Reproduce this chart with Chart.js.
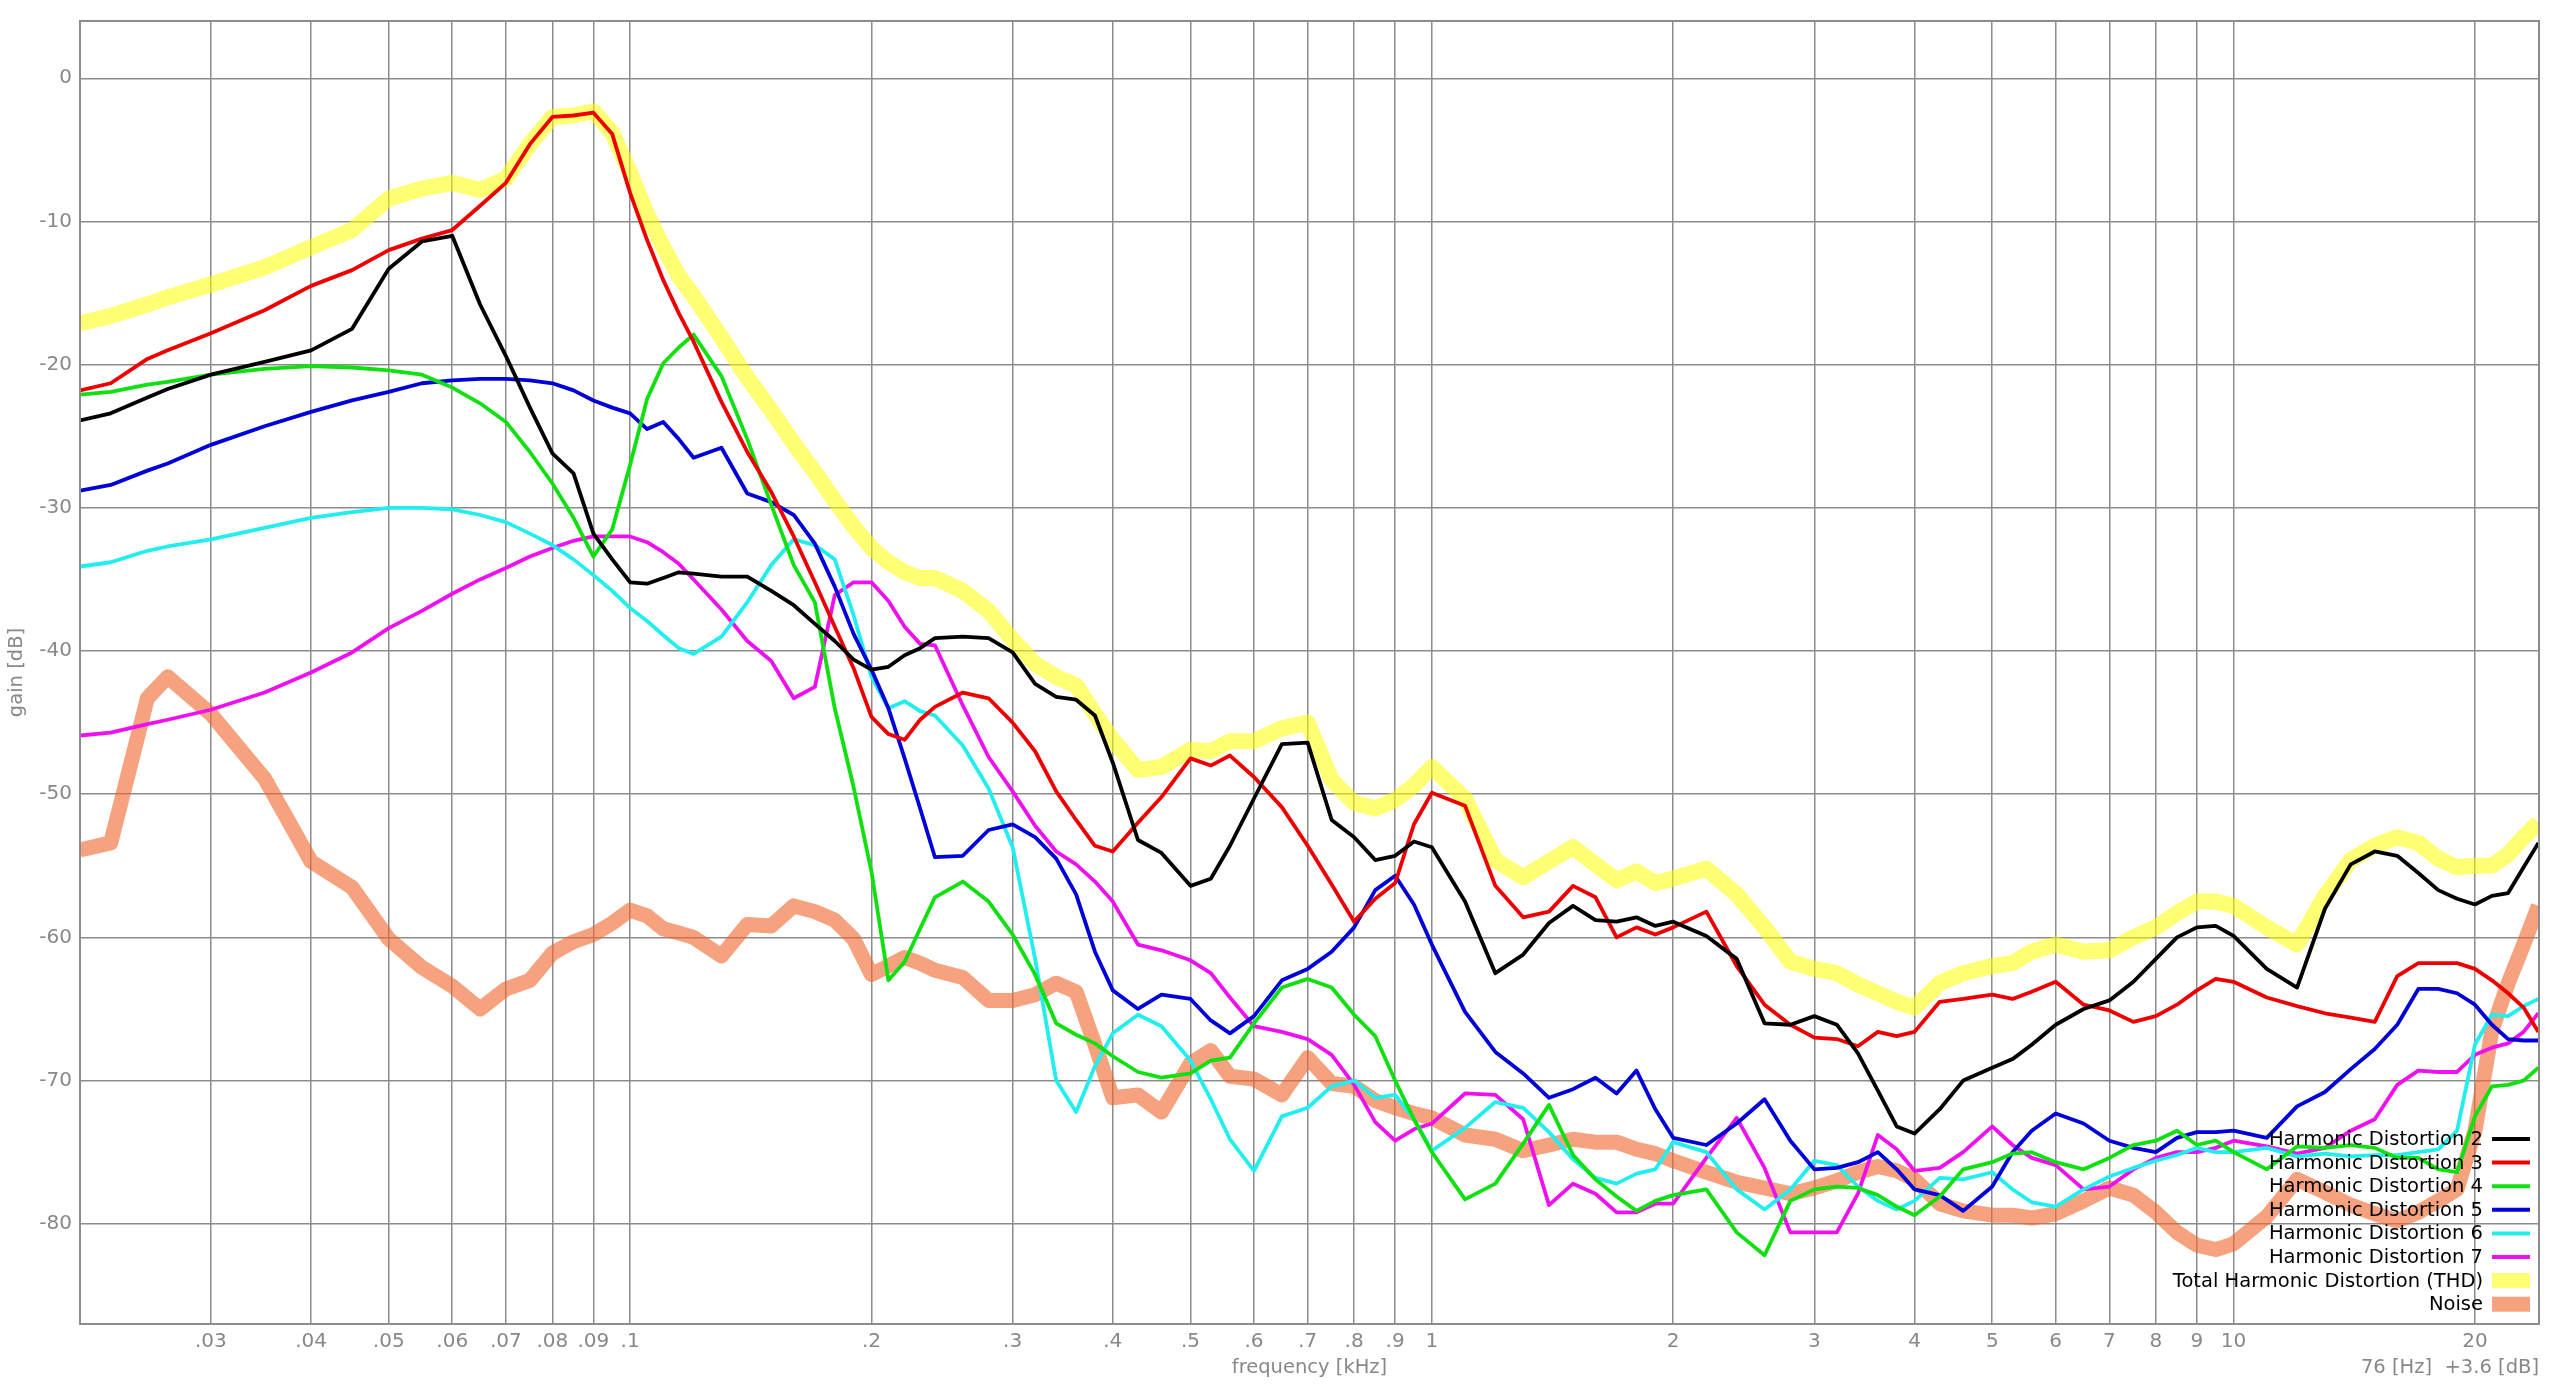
<!DOCTYPE html>
<html><head><meta charset="utf-8">
<script src="https://cdn.jsdelivr.net/npm/chart.js@4.4.1/dist/chart.umd.min.js"></script>
<style>html,body{margin:0;padding:0;background:#fff;}#wrap{width:2560px;height:1385px;position:relative;}</style>
</head><body><div id="wrap"><canvas id="c"></canvas></div>
<script>
// frequency points in kHz
const freq = [
 0.0206,0.0225,0.025,0.0265,0.03,0.035,0.04,0.045,0.05,0.055,
 0.06,0.065,0.07,0.075,0.08,0.085,0.09,0.095,0.1,0.105,
 0.11,0.115,0.12,0.13,0.14,0.15,0.16,0.17,0.18,0.19,
 0.2,0.21,0.22,0.23,0.24,0.26,0.28,0.3,0.32,0.34,
 0.36,0.38,0.4,0.43,0.46,0.5,0.53,0.56,0.6,0.65,
 0.7,0.75,0.8,0.85,0.9,0.95,1,1.1,1.2,1.3,
 1.4,1.5,1.6,1.7,1.8,1.9,2,2.2,2.4,2.6,
 2.8,3,3.2,3.4,3.6,3.8,4,4.3,4.6,5,
 5.3,5.6,6,6.5,7,7.5,8,8.5,9,9.5,
 10,11,12,13,14,15,16,17,18,19,
 20,21,22,23,24];

const hd2 = [
 -23.9,-23.4,-22.3,-21.7,-20.7,-19.8,-19.0,-17.5,-13.3,-11.4,
 -11.0,-15.8,-19.4,-23.0,-26.2,-27.6,-31.8,-33.6,-35.2,-35.3,
 -34.9,-34.5,-34.6,-34.8,-34.8,-35.8,-36.8,-38.1,-39.3,-40.6,
 -41.3,-41.1,-40.3,-39.8,-39.1,-39.0,-39.1,-40.1,-42.3,-43.2,
 -43.4,-44.5,-47.8,-53.2,-54.1,-56.4,-55.9,-53.6,-50.3,-46.5,
 -46.4,-51.8,-53.0,-54.6,-54.3,-53.3,-53.7,-57.5,-62.5,-61.2,
 -59.0,-57.8,-58.8,-58.9,-58.6,-59.2,-58.9,-59.9,-61.5,-66.0,
 -66.1,-65.5,-66.1,-68.1,-70.7,-73.2,-73.7,-72.0,-70.0,-69.1,
 -68.5,-67.5,-66.1,-65.0,-64.4,-63.1,-61.5,-60.0,-59.3,-59.2,
 -59.9,-62.2,-63.5,-58.0,-54.9,-54.0,-54.3,-55.5,-56.7,-57.3,
 -57.7,-57.1,-56.9,-55.1,-53.4];

const hd3 = [
 -21.8,-21.3,-19.6,-19.0,-17.8,-16.2,-14.5,-13.4,-12.0,-11.2,
 -10.6,-8.9,-7.3,-4.6,-2.7,-2.6,-2.4,-3.9,-8.0,-11.3,
 -14.1,-16.4,-18.4,-22.6,-26.1,-28.9,-32.0,-35.2,-38.3,-41.2,
 -44.6,-45.8,-46.2,-44.8,-43.9,-42.9,-43.3,-45.0,-47.0,-49.8,
 -51.8,-53.6,-54.0,-52.0,-50.2,-47.5,-48.0,-47.3,-48.8,-50.9,
 -53.6,-56.3,-58.9,-57.3,-56.2,-52.1,-49.9,-50.8,-56.4,-58.6,
 -58.2,-56.4,-57.2,-60.0,-59.3,-59.8,-59.3,-58.2,-62.0,-64.7,
 -66.1,-67.0,-67.1,-67.6,-66.6,-66.9,-66.6,-64.5,-64.3,-64.0,
 -64.3,-63.8,-63.1,-64.7,-65.1,-65.9,-65.5,-64.7,-63.7,-62.9,
 -63.1,-64.2,-64.8,-65.3,-65.6,-65.9,-62.7,-61.8,-61.8,-61.8,
 -62.2,-63.0,-63.9,-64.9,-66.6];

const hd4 = [
 -22.1,-21.9,-21.4,-21.2,-20.7,-20.3,-20.1,-20.2,-20.4,-20.7,
 -21.6,-22.7,-24.0,-26.1,-28.3,-30.7,-33.4,-31.5,-27.0,-22.4,
 -19.9,-18.8,-17.9,-20.8,-25.2,-29.8,-34.0,-36.6,-44.0,-49.5,
 -55.4,-63.0,-61.7,-59.4,-57.2,-56.1,-57.5,-59.8,-62.6,-66.0,
 -66.8,-67.4,-68.3,-69.4,-69.8,-69.5,-68.6,-68.4,-66.0,-63.5,
 -62.9,-63.5,-65.4,-66.9,-70.0,-72.7,-75.0,-78.3,-77.2,-74.4,
 -71.7,-75.2,-76.9,-78.1,-79.1,-78.4,-78.0,-77.6,-80.6,-82.2,
 -78.4,-77.6,-77.4,-77.5,-78.0,-78.8,-79.4,-78.1,-76.2,-75.7,
 -75.1,-75.0,-75.7,-76.2,-75.4,-74.5,-74.2,-73.5,-74.5,-74.2,
 -75.0,-76.2,-74.6,-74.7,-74.5,-74.7,-75.4,-75.4,-76.2,-76.4,
 -72.5,-70.4,-70.3,-70.0,-69.1];

const hd5 = [
 -28.8,-28.4,-27.4,-26.9,-25.6,-24.3,-23.3,-22.5,-21.9,-21.3,
 -21.1,-21.0,-21.0,-21.1,-21.3,-21.8,-22.5,-23.0,-23.4,-24.5,
 -24.0,-25.2,-26.5,-25.8,-29.0,-29.6,-30.5,-32.5,-35.5,-38.8,
 -41.3,-44.0,-47.5,-51.0,-54.4,-54.3,-52.5,-52.1,-53.0,-54.5,
 -57.0,-61.0,-63.7,-65.0,-64.0,-64.3,-65.8,-66.7,-65.5,-63.0,
 -62.2,-61.0,-59.3,-56.7,-55.7,-57.7,-60.5,-65.2,-68.0,-69.5,
 -71.2,-70.6,-69.8,-70.9,-69.3,-72.0,-74.0,-74.5,-73.0,-71.3,
 -74.2,-76.2,-76.1,-75.7,-75.0,-76.2,-77.6,-78.0,-79.1,-77.4,
 -75.0,-73.5,-72.3,-73.0,-74.2,-74.7,-75.0,-74.0,-73.6,-73.6,
 -73.5,-74.0,-71.8,-70.8,-69.2,-67.8,-66.1,-63.6,-63.6,-63.9,
 -64.7,-66.1,-67.1,-67.2,-67.2];

const hd6 = [
 -34.1,-33.8,-33.0,-32.7,-32.2,-31.4,-30.7,-30.3,-30.0,-30.0,
 -30.1,-30.5,-31.0,-31.8,-32.6,-33.6,-34.7,-35.8,-37.0,-37.9,
 -38.9,-39.8,-40.2,-39.0,-36.6,-34.0,-32.2,-32.6,-33.6,-37.5,
 -41.8,-44.0,-43.5,-44.2,-44.5,-46.6,-49.6,-53.7,-61.5,-70.0,
 -72.2,-69.0,-66.7,-65.4,-66.2,-68.6,-71.3,-74.1,-76.3,-72.5,
 -71.9,-70.4,-70.0,-71.2,-71.0,-72.7,-74.9,-73.3,-71.5,-71.9,
 -73.6,-75.5,-76.8,-77.2,-76.5,-76.2,-74.3,-75.0,-77.6,-79.0,
 -77.6,-75.6,-75.9,-77.4,-78.4,-79.0,-78.4,-76.8,-76.9,-76.4,
 -77.6,-78.5,-78.8,-77.6,-76.7,-76.1,-75.6,-75.2,-74.7,-75.0,
 -75.0,-74.7,-75.3,-75.1,-75.3,-75.2,-75.2,-75.0,-74.8,-73.5,
 -67.5,-65.4,-65.5,-64.8,-64.3];

const hd7 = [
 -45.9,-45.7,-45.1,-44.8,-44.1,-42.9,-41.5,-40.1,-38.4,-37.2,
 -36.0,-35.0,-34.2,-33.4,-32.8,-32.3,-32.0,-32.0,-32.0,-32.4,
 -33.1,-33.9,-35.0,-37.1,-39.3,-40.7,-43.3,-42.5,-36.1,-35.2,
 -35.2,-36.5,-38.3,-39.5,-39.6,-43.8,-47.4,-49.8,-52.2,-54.0,
 -54.9,-56.1,-57.5,-60.5,-60.9,-61.6,-62.5,-64.2,-66.2,-66.6,
 -67.1,-68.2,-70.3,-72.9,-74.2,-73.4,-73.0,-70.9,-71.0,-72.7,
 -78.7,-77.2,-77.9,-79.2,-79.2,-78.6,-78.6,-75.4,-72.6,-76.1,
 -80.6,-80.6,-80.6,-77.9,-73.8,-74.8,-76.3,-76.1,-75.0,-73.2,
 -74.5,-75.4,-75.9,-77.6,-77.4,-76.2,-75.4,-75.0,-75.0,-74.7,
 -74.2,-74.6,-75.1,-74.7,-73.5,-72.7,-70.3,-69.3,-69.4,-69.4,
 -68.2,-67.7,-67.4,-66.6,-65.3];

const thd = [
 -17.1,-16.6,-15.8,-15.3,-14.4,-13.2,-11.8,-10.6,-8.4,-7.7,
 -7.3,-7.8,-7.0,-4.6,-2.7,-2.6,-2.3,-3.8,-6.6,-9.5,
 -11.8,-13.8,-15.2,-18.1,-20.9,-23.2,-25.5,-27.5,-29.5,-31.3,
 -32.8,-33.8,-34.5,-34.9,-34.9,-35.8,-37.2,-39.2,-40.9,-41.8,
 -42.4,-44.4,-46.2,-48.3,-48.1,-46.9,-47.0,-46.3,-46.3,-45.4,
 -45.0,-49.0,-50.6,-51.0,-50.4,-49.4,-48.1,-50.3,-54.6,-55.8,
 -54.7,-53.7,-54.9,-56.0,-55.4,-56.2,-55.9,-55.2,-57.0,-59.3,
 -61.7,-62.2,-62.5,-63.3,-63.9,-64.5,-64.9,-63.2,-62.5,-62.0,
 -61.8,-61.0,-60.5,-61.0,-60.9,-60.0,-59.3,-58.3,-57.5,-57.5,
 -57.8,-59.3,-60.5,-57.1,-54.6,-53.6,-53.0,-53.4,-54.5,-55.1,
 -55.0,-55.0,-54.2,-53.0,-52.0];

const noise = [
 -53.9,-53.4,-43.3,-41.8,-44.4,-48.9,-54.7,-56.5,-60.1,-62.1,
 -63.4,-65.0,-63.6,-63.0,-61.1,-60.3,-59.8,-59.0,-58.1,-58.5,
 -59.4,-59.7,-60.0,-61.3,-59.1,-59.2,-57.8,-58.2,-58.8,-60.1,
 -62.6,-62.0,-61.4,-61.8,-62.3,-62.8,-64.4,-64.4,-64.0,-63.2,
 -63.8,-67.5,-71.2,-71.0,-72.2,-68.8,-67.9,-69.7,-69.9,-71.0,
 -68.4,-70.2,-70.4,-71.4,-71.9,-72.3,-72.6,-73.8,-74.1,-74.9,
 -74.5,-74.1,-74.3,-74.3,-74.8,-75.1,-75.6,-76.4,-77.1,-77.5,
 -77.9,-77.5,-77.0,-76.4,-76.0,-76.3,-76.9,-78.6,-79.1,-79.4,
 -79.4,-79.6,-79.3,-78.4,-77.5,-78.0,-79.2,-80.6,-81.5,-81.8,
 -81.4,-79.5,-76.9,-77.8,-78.7,-79.3,-79.8,-79.2,-78.4,-77.6,
 -73.5,-66.5,-63.2,-60.5,-57.8];

const xTickValues = [0.03,0.04,0.05,0.06,0.07,0.08,0.09,0.1,0.2,0.3,0.4,0.5,0.6,0.7,0.8,0.9,1,2,3,4,5,6,7,8,9,10,20];
const xTickLabels = ['.03','.04','.05','.06','.07','.08','.09','.1','.2','.3','.4','.5','.6','.7','.8','.9','1','2','3','4','5','6','7','8','9','10','20'];
const yTickValues = [0,-10,-20,-30,-40,-50,-60,-70,-80];

const seriesNames = ['Harmonic Distortion 2','Harmonic Distortion 3','Harmonic Distortion 4','Harmonic Distortion 5','Harmonic Distortion 6','Harmonic Distortion 7','Total Harmonic Distortion (THD)','Noise'];
const xTitle = 'frequency [kHz]';
const yTitle = 'gain [dB]';
const cornerNote = '76 [Hz]  +3.6 [dB]';

const seriesValues = [hd2, hd3, hd4, hd5, hd6, hd7, thd, noise];
const seriesColors = ['#000000','#ee0000','#10e010','#0000d8','#22eeee','#ee10ee','rgba(255,255,0,0.55)','rgba(240,100,40,0.6)'];
const seriesWidths = [3.8,3.8,3.8,3.8,3.8,3.8,16,15];

const GRID = '#8c8c8c';
const TEXT = '#888888';
const FONT = '"DejaVu Sans", Verdana, sans-serif';

const datasets = seriesValues.map((vals, k) => ({
  label: seriesNames[k],
  data: freq.map((f, i) => ({x: f, y: vals[i]})),
  borderColor: seriesColors[k],
  backgroundColor: seriesColors[k],
  borderWidth: seriesWidths[k],
  pointRadius: 0,
  tension: 0,
  fill: false,
  borderJoinStyle: 'round',
  borderCapStyle: 'butt',
  clip: 0
}));

const decor = {
  id: 'decor',
  afterDraw(chart) {
    const {ctx, chartArea: a} = chart;
    ctx.save();
    ctx.strokeStyle = GRID;
    ctx.lineWidth = 2;
    ctx.strokeRect(a.left, a.top, a.right - a.left, a.bottom - a.top);

    ctx.fillStyle = TEXT;
    ctx.font = '19.5px ' + FONT;
    ctx.textBaseline = 'middle';
    ctx.textAlign = 'center';
    ctx.fillText(xTitle, (a.left + a.right) / 2, a.bottom + 44);
    ctx.textAlign = 'right';
    ctx.fillText(cornerNote, a.right, a.bottom + 44);
    ctx.save();
    ctx.translate(17, (a.top + a.bottom) / 2);
    ctx.rotate(-Math.PI / 2);
    ctx.textAlign = 'center';
    ctx.fillText(yTitle, 0, 0);
    ctx.restore();

    // legend
    const rowH = 23.6;
    const y0 = a.bottom - 185;
    const textRight = a.right - 56;
    const swL = a.right - 47, swR = a.right - 9;
    ctx.font = '19.5px ' + FONT;
    ctx.textAlign = 'right';
    ctx.textBaseline = 'middle';
    chart.data.datasets.forEach((ds, i) => {
      const y = y0 + i * rowH;
      ctx.fillStyle = '#000';
      ctx.fillText(ds.label, textRight, y + 1);
      if (ds.borderWidth > 6) {
        ctx.fillStyle = ds.borderColor;
        ctx.fillRect(swL, y - 7.5, swR - swL, 15);
      } else {
        ctx.strokeStyle = ds.borderColor;
        ctx.lineWidth = 4;
        ctx.beginPath();
        ctx.moveTo(swL, y);
        ctx.lineTo(swR, y);
        ctx.stroke();
      }
    });
    ctx.restore();
  }
};

Chart.defaults.font.family = FONT;
Chart.defaults.font.size = 20;

new Chart(document.getElementById('c'), {
  type: 'line',
  data: {datasets},
  options: {
    responsive: true,
    maintainAspectRatio: false,
    devicePixelRatio: 1,
    animation: false,
    layout: {padding: {top: 21, right: 21, left: 0, bottom: 0}},
    plugins: {legend: {display: false}, tooltip: {enabled: false}},
    elements: {line: {borderJoinStyle: 'round'}},
    scales: {
      x: {
        type: 'logarithmic',
        min: 0.0206,
        max: 24.04,
        afterBuildTicks(scale) { scale.ticks = xTickValues.map(v => ({value: v})); },
        afterFit(scale) { scale.height = 61; },
        ticks: {
          autoSkip: false, maxRotation: 0, minRotation: 0,
          color: TEXT, font: {size: 20, family: FONT}, padding: 6,
          callback: (v, i) => xTickLabels[i]
        },
        grid: {color: GRID, lineWidth: 1.5, drawTicks: false},
        border: {color: GRID, width: 2}
      },
      y: {
        type: 'linear',
        min: -87,
        max: 4,
        afterBuildTicks(scale) { scale.ticks = yTickValues.map(v => ({value: v})); },
        afterFit(scale) { scale.width = 80; },
        ticks: {
          color: TEXT, font: {size: 20, family: FONT}, padding: 8,
          callback: (v) => String(v)
        },
        grid: {color: GRID, lineWidth: 1.5, drawTicks: false},
        border: {color: GRID, width: 2}
      }
    }
  },
  plugins: [decor]
});
</script>
</body></html>
